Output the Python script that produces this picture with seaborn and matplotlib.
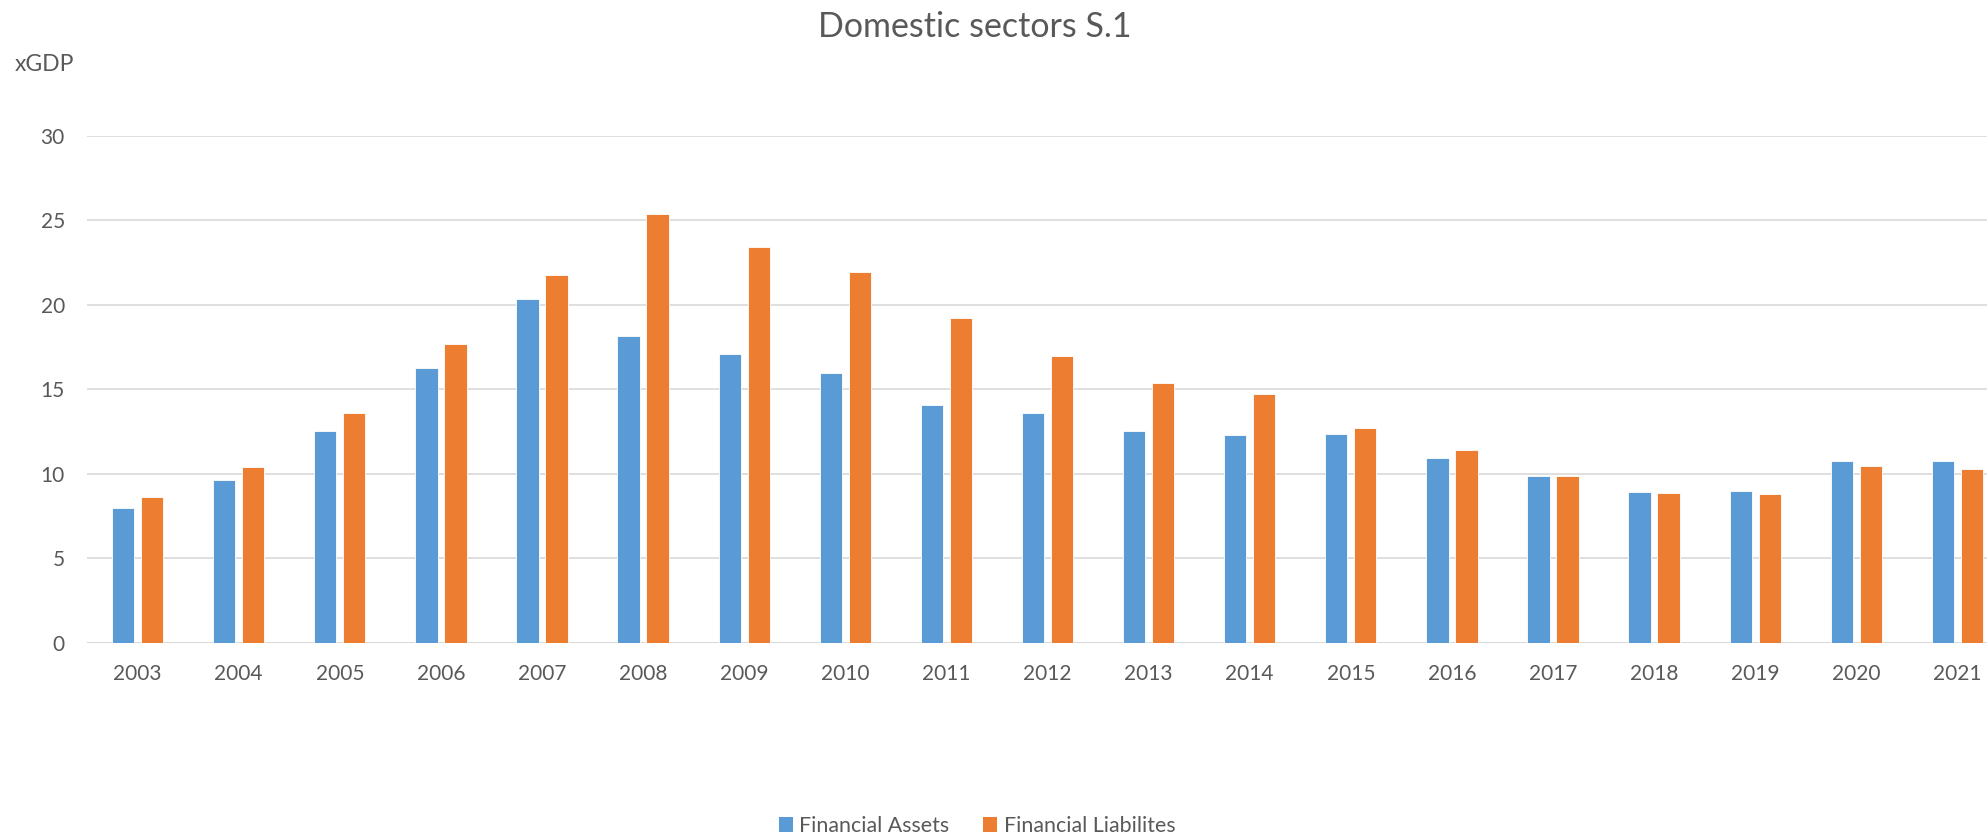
import matplotlib
matplotlib.use("Agg")
import matplotlib.pyplot as plt
import seaborn as sns
import pandas as pd
from matplotlib.patches import Patch

years = [str(y) for y in range(2003, 2022)]
financial_assets = [7.96, 9.64, 12.52, 16.25, 20.36, 18.17, 17.10, 15.96, 14.06, 13.59,
                    12.52, 12.30, 12.36, 10.94, 9.89, 8.91, 8.97, 10.78, 10.74]
financial_liabilities = [8.65, 10.39, 13.59, 17.67, 21.78, 25.39, 23.42, 21.94, 19.21, 16.98,
                         15.40, 14.73, 12.74, 11.43, 9.87, 8.87, 8.81, 10.47, 10.31]
series_names = ["Financial Assets", "Financial Liabilites"]
y_ticks = [0, 5, 10, 15, 20, 25, 30]

BLUE = "#5B9BD5"
ORANGE = "#ED7D31"
TEXT = "#595959"
GRID = "#D9D9D9"

df = pd.concat([
    pd.DataFrame({"year": years, "value": financial_assets, "series": series_names[0]}),
    pd.DataFrame({"year": years, "value": financial_liabilities, "series": series_names[1]}),
])

sns.set_theme(style="white")
plt.rcParams["font.family"] = ["Lato", "DejaVu Sans"]

W, H = 1987, 836
fig = plt.figure(figsize=(W / 100, H / 100), dpi=100)
ax = fig.add_axes([87 / W, (H - 642.7) / H, 1921 / W, 506.7 / H])

sns.barplot(data=df, x="year", y="value", hue="series", order=years,
            hue_order=series_names, palette=[BLUE, ORANGE],
            width=0.574, gap=0.23, saturation=1, legend=False, ax=ax,
            edgecolor="white", linewidth=0.6)

ax.set_xlim(-0.5, len(years) - 0.5)
ax.set_ylim(0, 30)
ax.set_yticks(y_ticks)
ax.yaxis.grid(True, color=GRID, linewidth=1.2)
ax.set_axisbelow(True)
for s in ax.spines.values():
    s.set_visible(False)
ax.axhline(0, color=GRID, linewidth=1.4, zorder=0.5)
ax.set_xlabel("")
ax.set_ylabel("")
ax.tick_params(axis="both", length=0, labelsize=15, labelcolor=TEXT)
ax.tick_params(axis="y", pad=16)
ax.tick_params(axis="x", pad=15)

fig.text(975 / W, 1 - 11 / H, "Domestic sectors S.1", ha="center", va="top",
         fontsize=24.5, color=TEXT)
fig.text(15 / W, 1 - 54 / H, "xGDP", ha="left", va="top", fontsize=16.5, color=TEXT)

handles = [Patch(facecolor=BLUE, edgecolor="none"), Patch(facecolor=ORANGE, edgecolor="none")]
fig.legend(handles, series_names, loc="center", bbox_to_anchor=(977 / W, 1 - 826 / H),
           ncol=2, frameon=False, fontsize=15.4, labelcolor=TEXT,
           handlelength=0.65, handleheight=0.65, handletextpad=0.3, columnspacing=1.6)

fig.savefig("out.png", dpi=100)
